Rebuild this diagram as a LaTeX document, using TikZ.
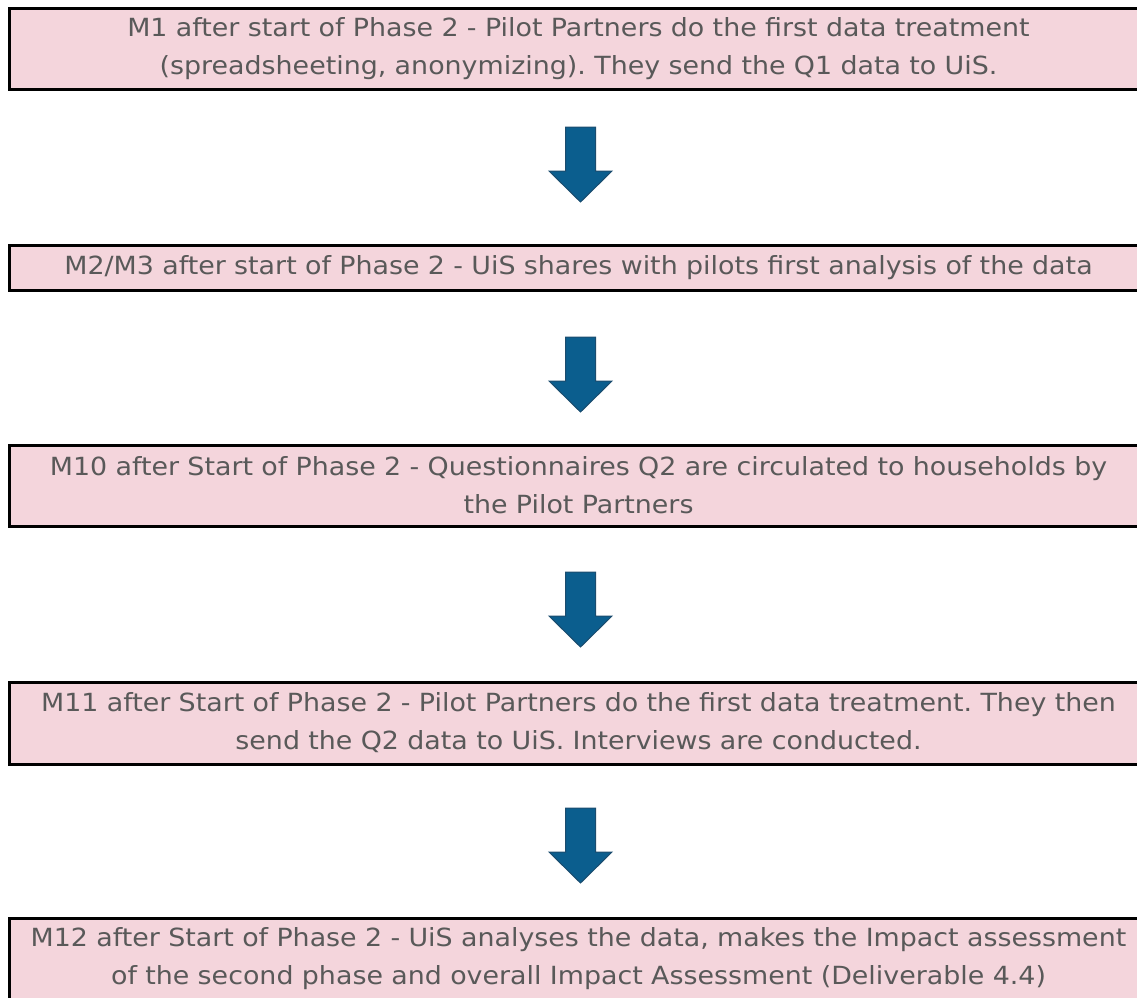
\documentclass[tikz,border=0pt]{standalone}
\usepackage{fontspec}
\setmainfont[FakeStretch=1.075]{DejaVu Sans}
\usetikzlibrary{calc}
\definecolor{boxpink}{HTML}{F4D5DC}
\definecolor{arrowblue}{HTML}{0B5E8E}
\definecolor{arrowedge}{HTML}{1B4C6E}
\definecolor{textgray}{HTML}{595959}
\frenchspacing
\begin{document}
\begin{tikzpicture}[x=1pt, y=-1pt,
    stepbox/.style={draw=black, line width=3pt, fill=boxpink, text=textgray,
        minimum width=1139pt, text width=1130pt, align=center, inner sep=0pt,
        font=\fontsize{25}{38}\selectfont},
    downarrow/.style={fill=arrowblue, draw=arrowedge, line width=1pt, line join=miter}]
    \useasboundingbox (0, 0) rectangle (1137, 997);
    \node[stepbox, minimum height=81pt] (m1) at (578.5, 48.5) {M1 after start of Phase 2 - Pilot Partners do the first data treatment\\(spreadsheeting, anonymizing). They send the Q1 data to UiS.};
    \node[stepbox, minimum height=45pt] (m2) at (578.5, 267.5) {M2/M3 after start of Phase 2 - UiS shares with pilots first analysis of the data};
    \node[stepbox, minimum height=81pt] (m10) at (578.5, 485.5) {M10 after Start of Phase 2 - Questionnaires Q2 are circulated to households by\\the Pilot Partners};
    \node[stepbox, minimum height=82pt] (m11) at (578.5, 723) {M11 after Start of Phase 2 - Pilot Partners do the first data treatment. They then\\send the Q2 data to UiS. Interviews are conducted.};
    \node[stepbox, minimum height=82pt] (m12) at (578.5, 959) {M12 after Start of Phase 2 - UiS analyses the data, makes the Impact assessment\\of the second phase and overall Impact Assessment (Deliverable 4.4)};
    % block arrows between the steps
    \coordinate (a1) at (580.5, 127);
    \coordinate (a2) at (580.5, 337);
    \coordinate (a3) at (580.5, 572);
    \coordinate (a4) at (580.5, 808);
    \foreach \a in {a1, a2, a3, a4}
        \draw[downarrow] ($(\a)+(-15, 0)$) -- ($(\a)+(15, 0)$) -- ($(\a)+(15, 44)$) -- ($(\a)+(31.5, 44)$)
            -- ($(\a)+(0, 75)$) -- ($(\a)+(-31.5, 44)$) -- ($(\a)+(-15, 44)$) -- cycle;
\end{tikzpicture}
\end{document}
